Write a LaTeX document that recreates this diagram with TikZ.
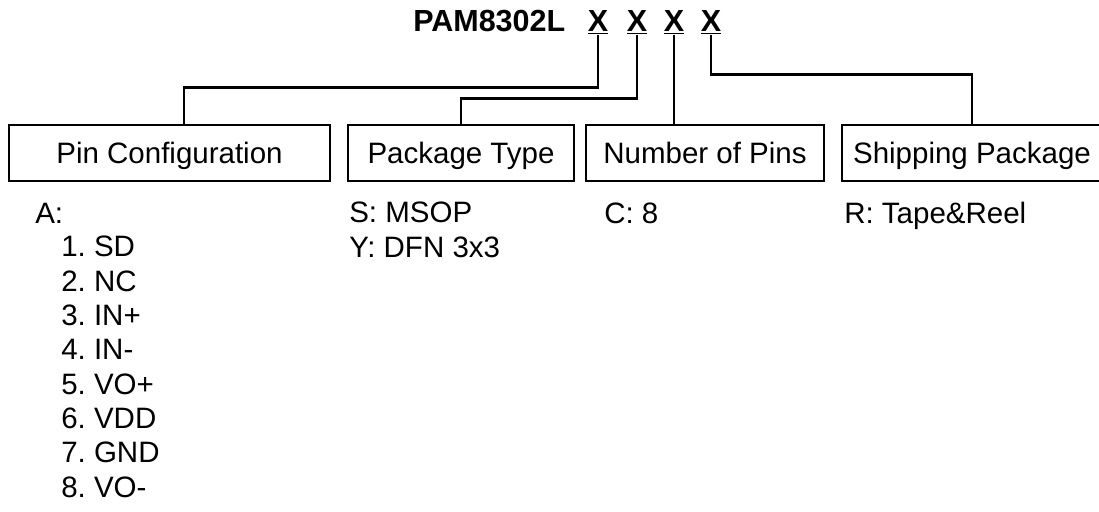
\documentclass[tikz,border=0pt]{standalone}
\usepackage{fontspec}
\setmainfont{Liberation Sans}
\usetikzlibrary{positioning, calc}
\frenchspacing

\begin{document}
\begin{tikzpicture}[x=1pt, y=-1pt, line width=2.5pt,
	field/.style={draw, minimum height=56pt, inner sep=0pt, text height=21.5pt, text depth=1.5pt, font=\fontsize{29.5}{34.3}\selectfont},
	note/.style={anchor=base west, align=left, inner sep=0pt, font=\fontsize{29.5}{34.3}\selectfont},
	digit/.style={anchor=base, inner sep=0pt, font=\fontsize{30.5}{34}\selectfont\bfseries}]
	\useasboundingbox [fill=white] (0,0) rectangle (1099,511);
	% part number and its code letters
	\node (title) [digit, anchor=base west] at (412,32) {PAM8302L};
	\node (x1) [digit] at (598,32) {\underline{X}};
	\node (x2) [digit] at (637,32) {\underline{X}};
	\node (x3) [digit] at (674,32) {\underline{X}};
	\node (x4) [digit] at (711,32) {\underline{X}};
	% fields
	\node (n1) [field, minimum width=321pt] at (169.5,153) {Pin Configuration};
	\node (n2) [field, minimum width=226pt] at (461,153) {Package Type};
	\node (n3) [field, minimum width=238pt] at (705,153) {Number of Pins};
	\node (n4) [field, minimum width=260pt] at (972,153) {Shipping Package};
	\draw (x1.south) -- ++(0,52) -| ([xshift=14.5pt]n1.north);
	\draw (x2.south) -- ++(0,63) -| (n2.north);
	\draw (x3.south) -- (x3.south |- n3.north);
	\draw (x4.south) -- ++(0,39) -| (n4.north);
	% codes (base anchor = last line)
	\node (pa) [note] at (34,223) {A:};
	\node (pl) [note] at (60,497) {1. SD\\2. NC\\3. IN+\\4. IN-\\5. VO+\\6. VDD\\7. GND\\8. VO-};
	\node (sa) [note] at (348,257) {S: MSOP\\Y: DFN 3x3};
	\node (ca) [note] at (603,223) {C: 8};
	\node (ra) [note] at (843,223) {R: Tape\&Reel};
\end{tikzpicture}
\end{document}
